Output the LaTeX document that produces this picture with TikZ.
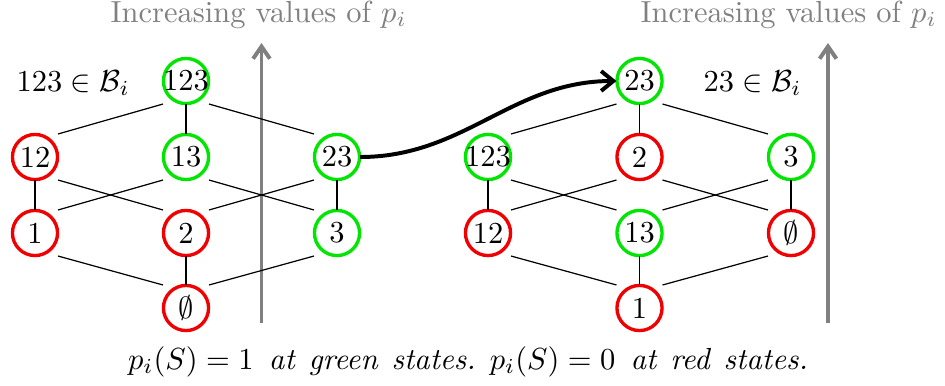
\documentclass[tikz,border=0pt]{standalone}
\usepackage{amsmath,amssymb}
\usetikzlibrary{arrows.meta}
\definecolor{stgreen}{RGB}{0,230,0}
\definecolor{stred}{RGB}{240,0,0}
\definecolor{axgray}{RGB}{128,128,128}
\begin{document}
\begin{tikzpicture}[x=0.328pt,y=-0.328pt,
  st/.style={rectangle, minimum size=16.5pt, outer sep=-0.7pt, inner sep=0pt,
    path picture={\draw[line width=1.1pt,draw=#1] (path picture bounding box.center) circle[radius=7.4pt];}},
  hasse/.style={draw=black, line width=0.4pt},
  axis/.style={draw=axgray, line width=1.3pt, -{Straight Barb[length=4pt,width=5.5pt]}},
  axlabel/.style={text=axgray, anchor=base west, inner sep=0pt},
  jump/.style={draw=black, line width=1.3pt, -{Straight Barb[length=4pt,width=6.5pt]}},
  member/.style={anchor=base west, inner sep=0pt},
]
\useasboundingbox (0,0) rectangle (945,385);
% axes
\coordinate (aL0) at (261.5,323);
\coordinate (aL1) at (261.5,43);
\coordinate (aR0) at (828,323);
\coordinate (aR1) at (828,43);
\draw[axis] (aL0) -- (aL1);
\draw[axis] (aR0) -- (aR1);
\node[axlabel] (tL) at (110,22) {Increasing values of $p_i$};
\node[axlabel] (tR) at (640,22) {Increasing values of $p_i$};
% left lattice
\node[st=stgreen] (L123) at (186,81) {123};
\node[st=stred]   (L12)  at (35,157) {12};
\node[st=stgreen] (L13)  at (186,157) {13};
\node[st=stgreen] (L23)  at (337,157) {23};
\node[st=stred]   (L1)   at (35,233) {1};
\node[st=stred]   (L2)   at (186,233) {2};
\node[st=stgreen] (L3)   at (337,233) {3};
\node[st=stred]   (L0)   at (186,308) {$\emptyset$};
\draw[hasse] (L123.south west) -- (L12.north east);
\draw[hasse] (L123.south) -- (L13.north);
\draw[hasse] (L123.south east) -- (L23.north west);
\draw[hasse] (L12.south) -- (L1.north);
\draw[hasse] (L12.south east) -- (L2.north west);
\draw[hasse] (L13.south west) -- (L1.north east);
\draw[hasse] (L13.south east) -- (L3.north west);
\draw[hasse] (L23.south west) -- (L2.north east);
\draw[hasse] (L23.south) -- (L3.north);
\draw[hasse] (L1.south east) -- (L0.north west);
\draw[hasse] (L2.south) -- (L0.north);
\draw[hasse] (L3.south west) -- (L0.north east);
% right lattice
\node[st=stgreen] (R23)  at (639.5,81) {23};
\node[st=stgreen] (R123) at (488,157) {123};
\node[st=stred]   (R2)   at (639.5,157) {2};
\node[st=stgreen] (R3)   at (791,157) {3};
\node[st=stred]   (R12)  at (488,233) {12};
\node[st=stgreen] (R13)  at (639.5,233) {13};
\node[st=stred]   (R0)   at (791,233) {$\emptyset$};
\node[st=stred]   (R1)   at (639.5,308) {1};
\draw[hasse] (R23.south west) -- (R123.north east);
\draw[hasse] (R23.south) -- (R2.north);
\draw[hasse] (R23.south east) -- (R3.north west);
\draw[hasse] (R123.south) -- (R12.north);
\draw[hasse] (R123.south east) -- (R13.north west);
\draw[hasse] (R2.south west) -- (R12.north east);
\draw[hasse] (R2.south east) -- (R0.north west);
\draw[hasse] (R3.south west) -- (R13.north east);
\draw[hasse] (R3.south) -- (R0.north);
\draw[hasse] (R12.south east) -- (R1.north west);
\draw[hasse] (R13.south) -- (R1.north);
\draw[hasse] (R0.south west) -- (R1.north east);
% labels
\node[member] (mL) at (16,91) {$123\in\mathcal{B}_i$};
\node[member] (mR) at (703,91) {$23\in\mathcal{B}_i$};
% transition
\draw[jump] (L23.east) to[out=0,in=180] (R23.west);
% caption
\node[anchor=base, inner sep=0pt] (cap) at (468,369) {\spaceskip=4.6pt plus 1pt $p_i(S) = 1$\hspace{5pt}\textit{at green states.}\hspace{4.6pt}$p_i(S) = 0$\hspace{5pt}\textit{at red states.}};
\end{tikzpicture}
\end{document}
